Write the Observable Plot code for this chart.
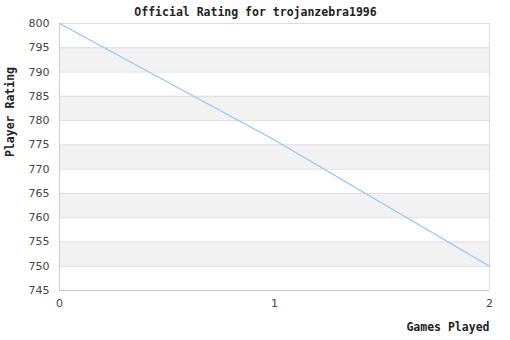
<!DOCTYPE html>
<html><head><meta charset="utf-8">
<script src="https://cdn.jsdelivr.net/npm/d3@7"></script>
<script src="https://cdn.jsdelivr.net/npm/@observablehq/plot@0.6"></script>
<style>body{margin:0;background:#fff}</style>
</head><body><div id="chart"></div>
<script>
const games = [0, 1, 2];
const ratings = [800, 776, 750];
const yTicks = [745, 750, 755, 760, 765, 770, 775, 780, 785, 790, 795, 800];
const xTicks = [0, 1, 2];
const bandStarts = [750, 760, 770, 780, 790];
const title = "Official Rating for trojanzebra1996";
const xLabel = "Games Played";
const yLabel = "Player Rating";

const data = games.map((g, i) => ({g, r: ratings[i]}));
const bands = bandStarts.map(b => ({y1: b, y2: b + 5}));
const mono = "'DejaVu Sans Mono', monospace";

const chart = Plot.plot({
  width: 510, height: 340,
  marginLeft: 59, marginRight: 21, marginTop: 23, marginBottom: 50,
  style: {fontFamily: "'DejaVu Sans', sans-serif", fontSize: "11px", background: "#fff", color: "#444"},
  x: {domain: [0, 2], ticks: xTicks, tickFormat: d => String(d)},
  y: {domain: [745, 800], ticks: yTicks},
  marks: [
    Plot.rect(bands, {x1: 0, x2: 2, y1: "y1", y2: "y2", fill: "#f2f2f2"}),
    Plot.ruleY(yTicks, {stroke: "#dddddd", strokeWidth: 1}),
    Plot.ruleX([0], {stroke: "#cccccc"}),
    Plot.ruleX([2], {stroke: "#dddddd"}),
    Plot.ruleY([745], {stroke: "#cccccc"}),
    Plot.line(data, {x: "g", y: "r", stroke: "#94c6f8", strokeWidth: 1.3}),
    Plot.axisY({ticks: yTicks, tickSize: 0, tickPadding: 10, label: null, fill: "#444", fontSize: 11}),
    Plot.axisX({ticks: xTicks, tickSize: 0, tickPadding: 9, label: null, fill: "#444", fontSize: 11, tickFormat: d => String(d)}),
    Plot.text([title], {frameAnchor: "top", dx: -19, dy: -16, fontFamily: mono, fontWeight: "bold", fontSize: 11.5, fill: "#222"}),
    Plot.text([xLabel], {frameAnchor: "bottom-right", dy: 40, textAnchor: "end", fontFamily: mono, fontWeight: "bold", fontSize: 11.5, fill: "#222"}),
    Plot.text([yLabel], {frameAnchor: "left", dx: -49, rotate: -90, fontFamily: mono, fontWeight: "bold", fontSize: 11.5, fill: "#222"})
  ]
});
document.getElementById("chart").appendChild(chart);
</script></body></html>
